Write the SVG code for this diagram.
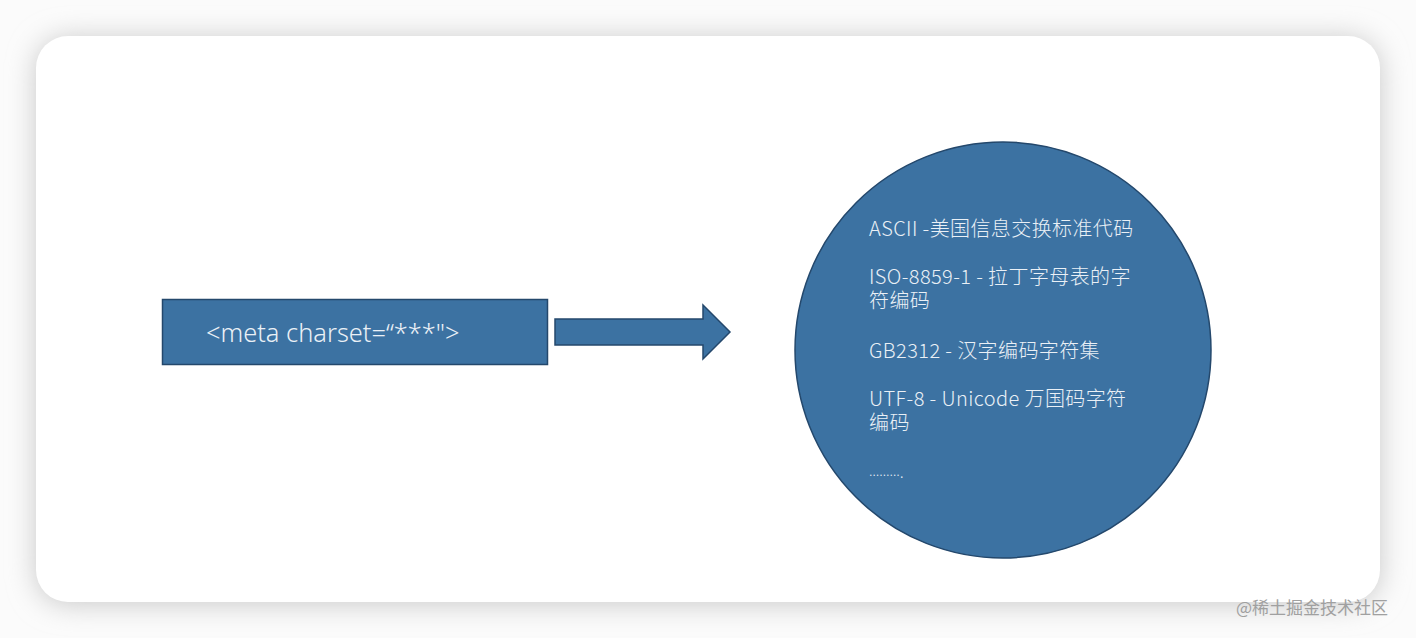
<svg xmlns="http://www.w3.org/2000/svg" width="1416" height="638" viewBox="0 0 1416 638">
  <defs>
    <filter id="shadow" x="-10%" y="-10%" width="120%" height="120%">
      <feGaussianBlur stdDeviation="14"/>
    </filter>
    <style>
      .shape { fill: #3c72a2; stroke: #24486c; stroke-width: 1.5; }
      .lbl { font-family: "Noto Sans", "Noto Sans CJK SC", sans-serif; fill: #eaf0f6; font-weight: 300; }
      .cjk { font-family: "Noto Sans CJK SC", sans-serif; fill: #eaf0f6; font-weight: 300; }
      .wm { font-family: "Noto Sans CJK SC", sans-serif; fill: #a0a0a0; font-size: 17px; }
    </style>
  </defs>
  <rect x="0" y="0" width="1416" height="638" fill="#fbfbfb"/>
  <rect x="36" y="38" width="1344" height="566" rx="32" fill="#c8c8c8" filter="url(#shadow)"/>
  <rect x="36" y="36" width="1344" height="566" rx="32" fill="#ffffff"/>

  <g id="meta-node">
    <rect class="shape" x="162.5" y="299.5" width="385" height="65"/>
    <text class="lbl" x="206" y="342" font-size="25.4">&lt;meta charset=“***"&gt;</text>
  </g>

  <g id="connectors">
    <path class="shape" d="M555,319 L703,319 L703,305 L730,332 L703,359 L703,345 L555,345 Z"/>
  </g>

  <g id="charset-node">
    <circle class="shape" cx="1003" cy="350" r="208"/>
    <text class="cjk" font-size="20" letter-spacing="0.4">
      <tspan x="869" y="236">ASCII -美国信息交换标准代码</tspan>
      <tspan x="869" y="284">ISO-8859-1 - 拉丁字母表的字</tspan>
      <tspan x="869" y="308">符编码</tspan>
      <tspan x="869" y="358">GB2312 - 汉字编码字符集</tspan>
      <tspan x="869" y="406">UTF-8 - Unicode 万国码字符</tspan>
      <tspan x="869" y="430">编码</tspan>
    </text>
    <text class="lbl" x="869" y="476" font-size="14">………<tspan font-size="16" dy="2">.</tspan></text>
  </g>

  <text class="wm" x="1236" y="614">@稀土掘金技术社区</text>
</svg>
